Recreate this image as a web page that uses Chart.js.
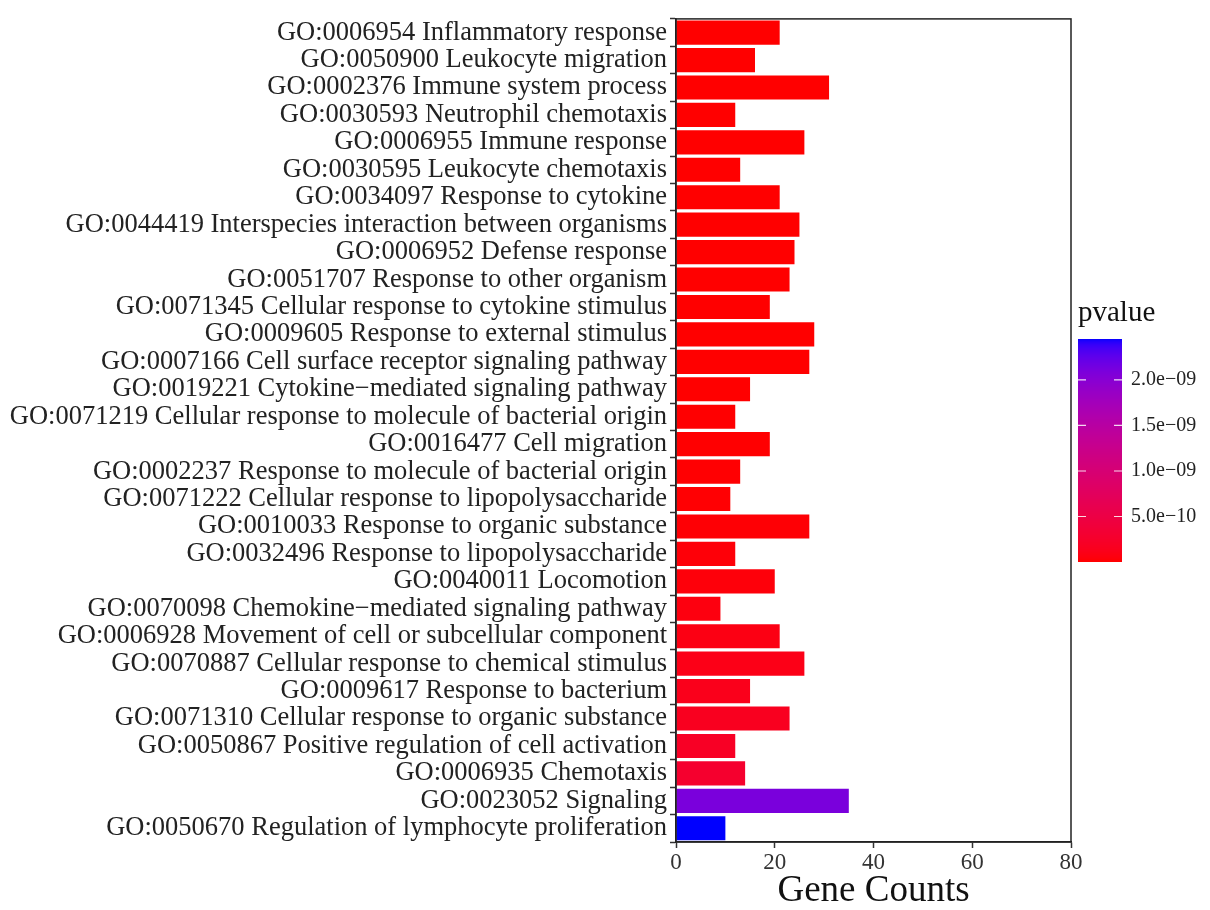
<!DOCTYPE html>
<html>
<head>
<meta charset="utf-8">
<script src="https://cdn.jsdelivr.net/npm/chart.js@4/dist/chart.umd.min.js"></script>
<style>
  html, body { margin: 0; padding: 0; background: #fff; }
  #wrap { width: 1210px; height: 910px; }
</style>
</head>
<body>
<div id="wrap"><canvas id="chart" width="1210" height="910"></canvas></div>
<script>
"use strict";

const terms = [
    'GO:0006954 Inflammatory response',
    'GO:0050900 Leukocyte migration',
    'GO:0002376 Immune system process',
    'GO:0030593 Neutrophil chemotaxis',
    'GO:0006955 Immune response',
    'GO:0030595 Leukocyte chemotaxis',
    'GO:0034097 Response to cytokine',
    'GO:0044419 Interspecies interaction between organisms',
    'GO:0006952 Defense response',
    'GO:0051707 Response to other organism',
    'GO:0071345 Cellular response to cytokine stimulus',
    'GO:0009605 Response to external stimulus',
    'GO:0007166 Cell surface receptor signaling pathway',
    'GO:0019221 Cytokine\u2212mediated signaling pathway',
    'GO:0071219 Cellular response to molecule of bacterial origin',
    'GO:0016477 Cell migration',
    'GO:0002237 Response to molecule of bacterial origin',
    'GO:0071222 Cellular response to lipopolysaccharide',
    'GO:0010033 Response to organic substance',
    'GO:0032496 Response to lipopolysaccharide',
    'GO:0040011 Locomotion',
    'GO:0070098 Chemokine\u2212mediated signaling pathway',
    'GO:0006928 Movement of cell or subcellular component',
    'GO:0070887 Cellular response to chemical stimulus',
    'GO:0009617 Response to bacterium',
    'GO:0071310 Cellular response to organic substance',
    'GO:0050867 Positive regulation of cell activation',
    'GO:0006935 Chemotaxis',
    'GO:0023052 Signaling',
    'GO:0050670 Regulation of lymphocyte proliferation'
];

const geneCounts = [21, 16, 31, 12, 26, 13, 21, 25, 24, 23, 19, 28, 27, 15, 12,
                    19, 13, 11, 27, 12, 20, 9, 21, 26, 15, 23, 12, 14, 35, 10];

const pvalues = [
    1e-18, 1e-17, 1e-17, 5e-17, 1e-16, 2e-16, 1e-15, 2e-15, 5e-15, 1e-14,
    3e-14, 1e-13, 2e-13, 1e-12, 3e-12, 5e-12, 8e-12, 1e-11, 2e-11, 3e-11,
    4e-11, 6e-11, 8e-11, 1e-10, 1.3e-10, 1.6e-10, 2e-10, 2.8e-10, 2.1e-9, 2.45e-9
];

const legendTicks = [5e-10, 1e-9, 1.5e-9, 2e-9];
const legendTickLabels = ['5.0e\u221210', '1.0e\u221209', '1.5e\u221209', '2.0e\u221209'];

const FONT = "'Liberation Serif', 'DejaVu Serif', serif";


// ggplot-style red -> blue gradient, interpolated in Lab space
function toLinear(c) {
    c /= 255;
    return c <= 0.04045 ? c / 12.92 : Math.pow((c + 0.055) / 1.055, 2.4);
}
function fromLinear(c) {
    const v = c <= 0.0031308 ? 12.92 * c : 1.055 * Math.pow(c, 1 / 2.4) - 0.055;
    return Math.round(Math.max(0, Math.min(1, v)) * 255);
}
function rgbToLab(r, g, b) {
    r = toLinear(r); g = toLinear(g); b = toLinear(b);
    let x = (r * 0.4124 + g * 0.3576 + b * 0.1805) / 0.95047;
    let y = (r * 0.2126 + g * 0.7152 + b * 0.0722);
    let z = (r * 0.0193 + g * 0.1192 + b * 0.9505) / 1.08883;
    const f = t => t > 0.008856 ? Math.cbrt(t) : 7.787 * t + 16 / 116;
    x = f(x); y = f(y); z = f(z);
    return [116 * y - 16, 500 * (x - y), 200 * (y - z)];
}
function labToRgb(L, a, bb) {
    let y = (L + 16) / 116, x = a / 500 + y, z = y - bb / 200;
    const fi = t => t * t * t > 0.008856 ? t * t * t : (t - 16 / 116) / 7.787;
    x = fi(x) * 0.95047; y = fi(y); z = fi(z) * 1.08883;
    const r = x * 3.2406 + y * -1.5372 + z * -0.4986;
    const g = x * -0.9689 + y * 1.8758 + z * 0.0415;
    const b = x * 0.0557 + y * -0.2040 + z * 1.0570;
    return 'rgb(' + fromLinear(r) + ',' + fromLinear(g) + ',' + fromLinear(b) + ')';
}
const LOW = rgbToLab(255, 0, 0);
const HIGH = rgbToLab(0, 0, 255);
const pMin = Math.min(...pvalues);
const pMax = Math.max(...pvalues);
function colorFor(p) {
    const t = (p - pMin) / (pMax - pMin);
    return labToRgb(LOW[0] + (HIGH[0] - LOW[0]) * t,
                    LOW[1] + (HIGH[1] - LOW[1]) * t,
                    LOW[2] + (HIGH[2] - LOW[2]) * t);
}


// box round the panel plus the pvalue colour bar
const panelAndLegend = {
    id: 'panelAndLegend',
    afterDraw(chart) {
        const { ctx, chartArea: a } = chart;
        ctx.save();
        ctx.strokeStyle = '#222';
        ctx.lineWidth = 1.5;
        ctx.strokeRect(a.left, a.top, a.right - a.left, a.bottom - a.top);

        const x0 = 1078, w = 44, top = 339, bottom = 562;
        for (let y = top; y < bottom; y++) {
            const p = pMax - (y - top + 0.5) / (bottom - top) * (pMax - pMin);
            ctx.fillStyle = colorFor(p);
            ctx.fillRect(x0, y, w, 1);
        }
        ctx.font = '29px ' + FONT;
        ctx.fillStyle = '#111';
        ctx.textBaseline = 'alphabetic';
        ctx.textAlign = 'left';
        ctx.fillText('pvalue', 1078, 321);

        ctx.font = '20px ' + FONT;
        ctx.textBaseline = 'middle';
        legendTicks.forEach((v, i) => {
            const y = bottom - (v - pMin) / (pMax - pMin) * (bottom - top);
            ctx.strokeStyle = 'rgba(255,255,255,0.85)';
            ctx.lineWidth = 1.2;
            ctx.beginPath();
            ctx.moveTo(x0, y); ctx.lineTo(x0 + 8, y);
            ctx.moveTo(x0 + w - 8, y); ctx.lineTo(x0 + w, y);
            ctx.stroke();
            ctx.fillStyle = '#222';
            ctx.fillText(legendTickLabels[i], 1131, y);
        });
        ctx.restore();
    }
};


const ctx = document.getElementById('chart').getContext('2d');
const chart = new Chart(ctx, {
    type: 'bar',
    data: {
        labels: terms,
        datasets: [{
            label: 'Gene Counts',
            data: geneCounts,
            backgroundColor: pvalues.map(colorFor),
            borderWidth: 0,
            barPercentage: 0.88,
            categoryPercentage: 1.0
        }]
    },
    options: {
        indexAxis: 'y',
        responsive: false,
        animation: false,
        layout: {
            padding: { top: 17, right: 139, bottom: 0, left: 0 }
        },
        scales: {
            x: {
                min: 0,
                max: 80,
                ticks: {
                    stepSize: 20,
                    color: '#333',
                    padding: 1,
                    font: { family: FONT, size: 23 }
                },
                grid: {
                    drawOnChartArea: false,
                    tickLength: 6,
                    tickColor: '#333',
                    tickWidth: 1.5
                },
                border: { color: '#222', width: 1.5 },
                title: {
                    display: true,
                    text: 'Gene Counts',
                    color: '#111',
                    padding: { top: 0, bottom: 0 },
                    font: { family: FONT, size: 37, lineHeight: 1.0 }
                },
                afterFit(scale) { scale.height = 68; }
            },
            y: {
                ticks: {
                    color: '#222',
                    padding: 3,
                    autoSkip: false,
                    font: { family: FONT, size: 26.5 }
                },
                grid: {
                    drawOnChartArea: false,
                    tickLength: 6,
                    tickColor: '#333',
                    tickWidth: 1.5
                },
                border: { color: '#222', width: 1.5 },
                afterFit(scale) { scale.width = 676; }
            }
        },
        plugins: {
            legend: { display: false },
            tooltip: { enabled: false }
        }
    },
    plugins: [panelAndLegend]
});
</script>
</body>
</html>
